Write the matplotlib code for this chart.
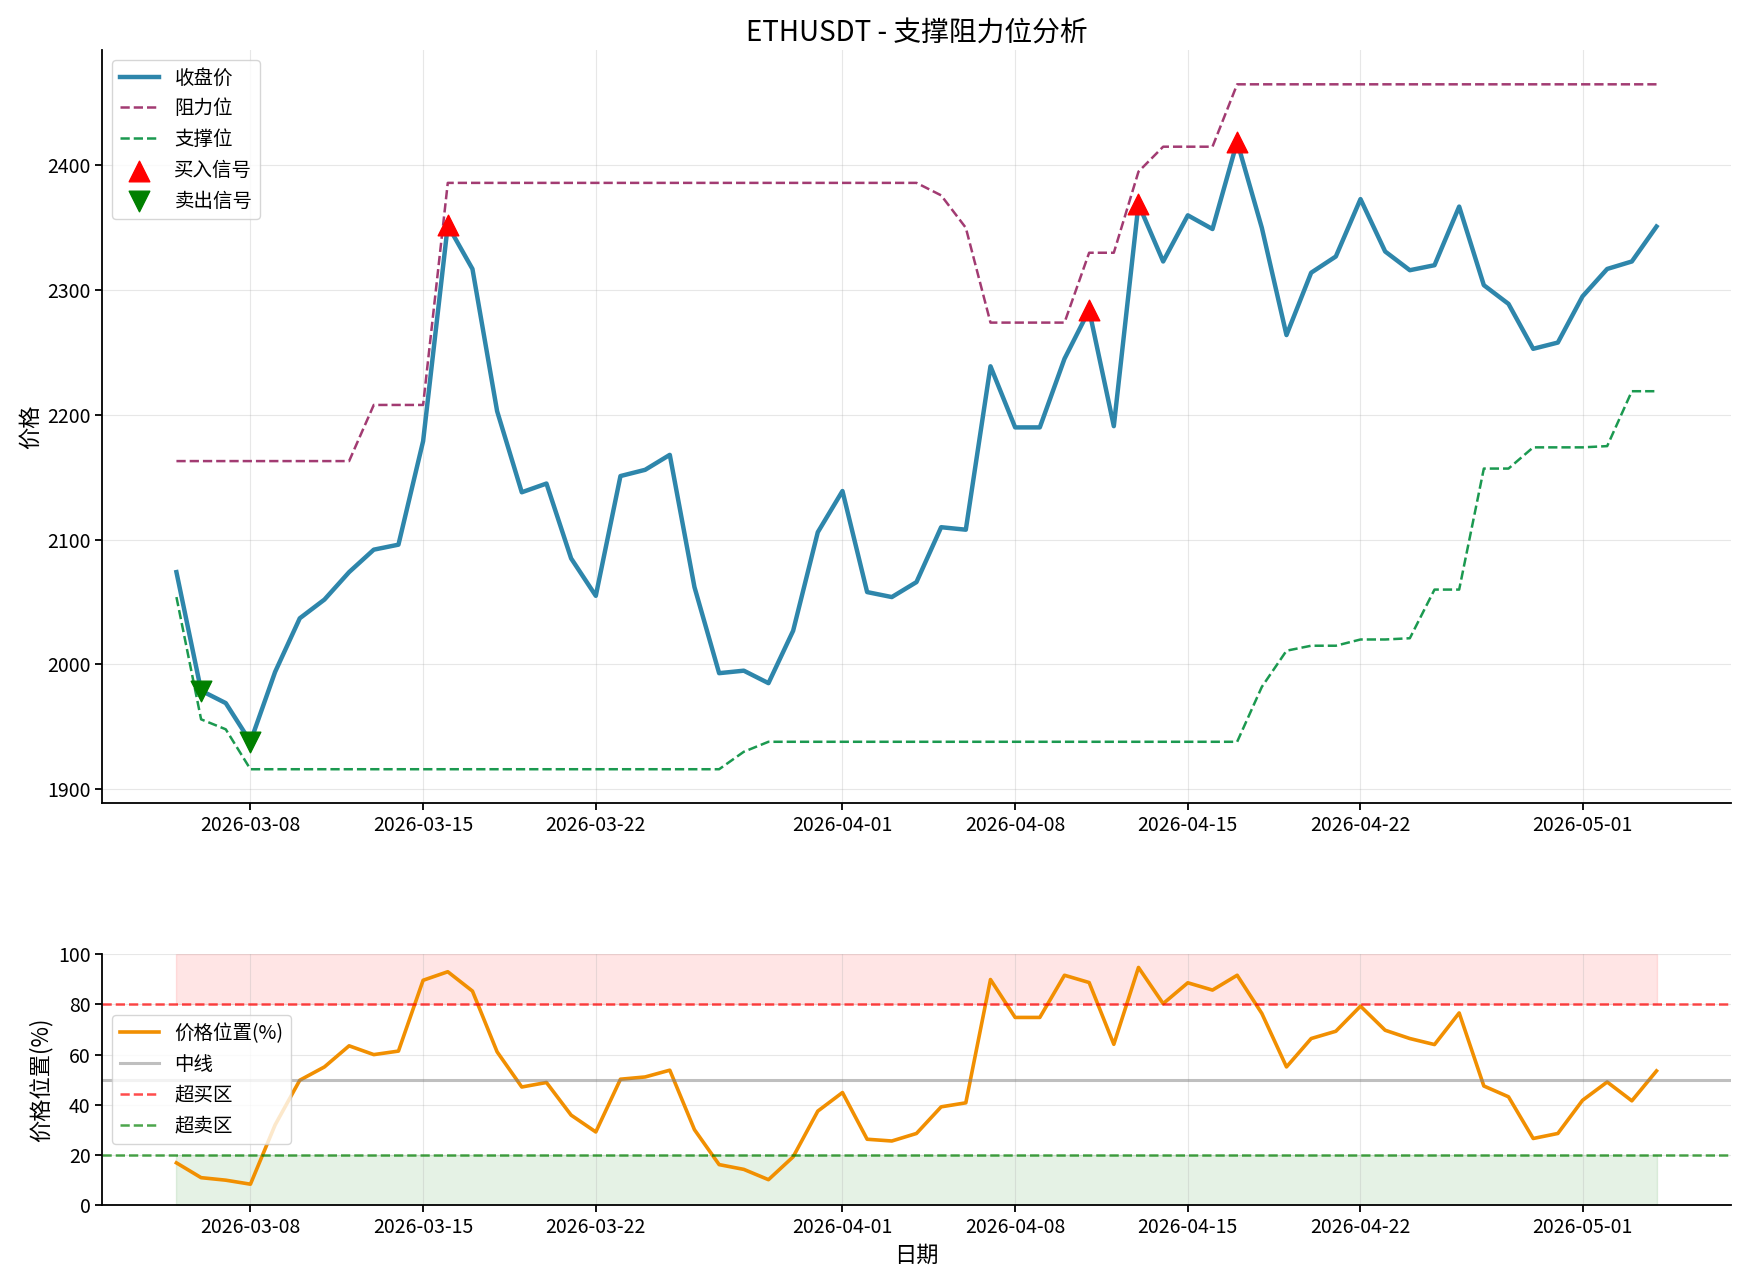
import numpy as np
import pandas as pd
import matplotlib
matplotlib.use('Agg')
import matplotlib.pyplot as plt
import matplotlib.dates as mdates

plt.rcParams['font.family'] = ['Noto Sans CJK SC', 'DejaVu Sans']
plt.rcParams['axes.unicode_minus'] = False

dates = pd.date_range('2026-03-05', '2026-05-04', freq='D')

close = [2074, 1979, 1969, 1938, 1994, 2037, 2052, 2074, 2092, 2096,
         2179, 2352, 2317, 2203, 2138, 2145, 2085, 2055, 2151, 2156,
         2168, 2062, 1993, 1995, 1985, 2027, 2106, 2139, 2058, 2054,
         2066, 2110, 2108, 2239, 2190, 2190, 2245, 2284, 2191, 2369,
         2323, 2360, 2349, 2419, 2350, 2264, 2314, 2327, 2373, 2331,
         2316, 2320, 2367, 2304, 2289, 2253, 2258, 2295, 2317, 2323,
         2351]

resistance = [2163, 2163, 2163, 2163, 2163, 2163, 2163, 2163, 2208, 2208,
              2208, 2386, 2386, 2386, 2386, 2386, 2386, 2386, 2386, 2386,
              2386, 2386, 2386, 2386, 2386, 2386, 2386, 2386, 2386, 2386,
              2386, 2376, 2350, 2274, 2274, 2274, 2274, 2330, 2330, 2395,
              2415, 2415, 2415, 2465, 2465, 2465, 2465, 2465, 2465, 2465,
              2465, 2465, 2465, 2465, 2465, 2465, 2465, 2465, 2465, 2465,
              2465]

support = [2054, 1956, 1948, 1916, 1916, 1916, 1916, 1916, 1916, 1916,
           1916, 1916, 1916, 1916, 1916, 1916, 1916, 1916, 1916, 1916,
           1916, 1916, 1916, 1930, 1938, 1938, 1938, 1938, 1938, 1938,
           1938, 1938, 1938, 1938, 1938, 1938, 1938, 1938, 1938, 1938,
           1938, 1938, 1938, 1938, 1982, 2011, 2015, 2015, 2020, 2020,
           2021, 2060, 2060, 2157, 2157, 2174, 2174, 2174, 2175, 2219,
           2219]

position = [16.9, 11.0, 10.0, 8.4, 32.0, 49.8, 55.1, 63.5, 60.0, 61.4,
            89.6, 93.0, 85.3, 61.1, 47.1, 48.9, 35.9, 29.2, 50.2, 51.1,
            53.8, 30.1, 16.2, 14.3, 10.2, 19.3, 37.5, 44.9, 26.3, 25.6,
            28.6, 39.2, 40.8, 89.9, 74.8, 74.8, 91.6, 88.7, 64.1, 94.7,
            80.3, 88.6, 85.7, 91.6, 76.4, 55.1, 66.4, 69.3, 79.3, 69.7,
            66.4, 64.0, 76.6, 47.5, 43.2, 26.6, 28.6, 41.8, 49.1, 41.6,
            53.5]

buy_idx = [11, 37, 39, 43]
sell_idx = [1, 3]

close = np.array(close)
buy_dates = dates[buy_idx]
sell_dates = dates[sell_idx]

fig, (ax1, ax2) = plt.subplots(2, 1, figsize=(17.45, 12.84), dpi=100,
                               gridspec_kw={'height_ratios': [3, 1]})
fig.subplots_adjust(left=0.0587, right=0.9917, top=0.961, bottom=0.0613, hspace=0.3)

ax1.plot(dates, close, color='#2E86AB', linewidth=3.2, label='收盘价')
ax1.plot(dates, resistance, color='#A23B72', linestyle='--', linewidth=1.8, label='阻力位')
ax1.plot(dates, support, color='#1B9950', linestyle='--', linewidth=1.8, label='支撑位')
ax1.scatter(buy_dates, close[buy_idx], color='red', marker='^', s=220, zorder=5, label='买入信号')
ax1.scatter(sell_dates, close[sell_idx], color='green', marker='v', s=220, zorder=5, label='卖出信号')
ax1.set_title('ETHUSDT - 支撑阻力位分析', fontsize=20)
ax1.set_ylabel('价格', fontsize=16)
ax1.legend(loc='upper left', fontsize=14)
ax1.grid(True, alpha=0.3)
ax1.spines['top'].set_visible(False)
ax1.spines['right'].set_visible(False)
ax1.xaxis.set_major_formatter(mdates.DateFormatter('%Y-%m-%d'))

ax2.plot(dates, position, color='#F18F01', linewidth=2.6, label='价格位置(%)')
ax2.axhline(50, color='gray', alpha=0.5, linewidth=2.2, label='中线')
ax2.axhline(80, color='red', linestyle='--', alpha=0.7, linewidth=1.8, label='超买区')
ax2.axhline(20, color='green', linestyle='--', alpha=0.7, linewidth=1.8, label='超卖区')
ax2.fill_between(dates, 80, 100, color='red', alpha=0.1)
ax2.fill_between(dates, 0, 20, color='green', alpha=0.1)
ax2.set_ylim(0, 100)
ax2.set_ylabel('价格位置(%)', fontsize=16)
ax2.set_xlabel('日期', fontsize=16)
ax2.legend(loc='center left', fontsize=14)
ax2.grid(True, alpha=0.3)
ax2.spines['top'].set_visible(False)
ax2.spines['right'].set_visible(False)
ax2.xaxis.set_major_formatter(mdates.DateFormatter('%Y-%m-%d'))

for ax in (ax1, ax2):
    ax.tick_params(labelsize=14, width=1.3, length=5)
    for s in ('left', 'bottom'):
        ax.spines[s].set_linewidth(1.3)

fig.savefig('out.png', dpi=100)
